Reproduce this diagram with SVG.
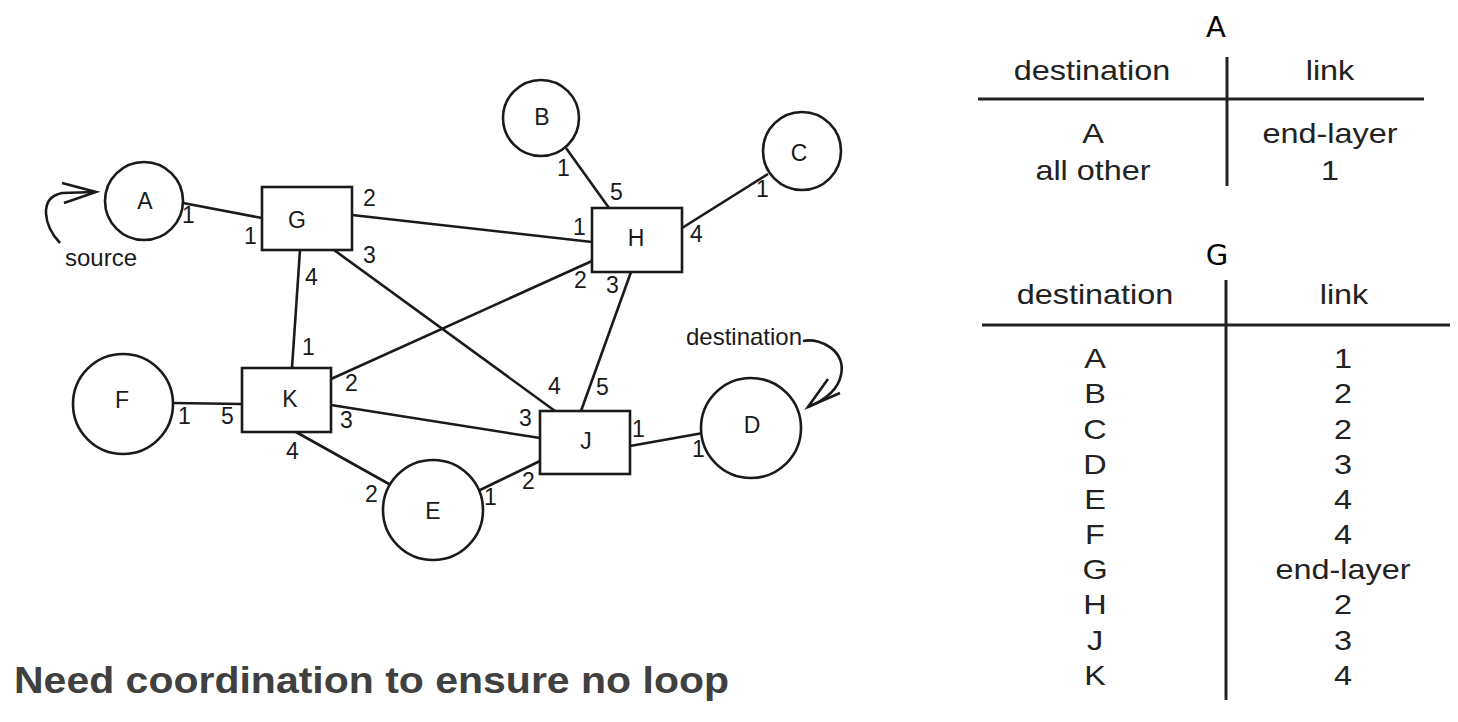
<svg xmlns="http://www.w3.org/2000/svg" width="1458" height="722" viewBox="0 0 1458 722">
<style>
.nd{fill:#fff;stroke:#1a1a1a;stroke-width:2.6}
.ln{stroke:#1a1a1a;stroke-width:2.6;fill:none}
.lb{font-family:"Liberation Sans",Arial,sans-serif;font-size:23px;fill:#1a1a1a}
.nl{font-family:"Liberation Sans",Arial,sans-serif;font-size:23px;fill:#1a1a1a;text-anchor:middle}
.an{font-family:"Liberation Sans",Arial,sans-serif;font-size:24px;fill:#1a1a1a}
.tt{font-family:"DejaVu Sans",sans-serif;font-size:29px;fill:#000;text-anchor:middle}
.tx{font-family:"Liberation Sans",Arial,sans-serif;font-size:27px;fill:#222;text-anchor:middle}
.tl{stroke:#222;stroke-width:3}
</style>
<rect width="1458" height="722" fill="#fff"/>
<g id="connectors">
<line class="ln" x1="183" y1="203" x2="262" y2="218"/>
<line class="ln" x1="352" y1="215" x2="592" y2="242"/>
<line class="ln" x1="566" y1="148" x2="609" y2="208"/>
<line class="ln" x1="768" y1="174" x2="682" y2="228"/>
<line class="ln" x1="300" y1="250" x2="292" y2="368"/>
<line class="ln" x1="334" y1="250" x2="555" y2="411"/>
<line class="ln" x1="592" y1="261" x2="331" y2="379"/>
<line class="ln" x1="631" y1="272" x2="581" y2="411"/>
<line class="ln" x1="173" y1="403" x2="242" y2="404"/>
<line class="ln" x1="331" y1="405" x2="540" y2="438"/>
<line class="ln" x1="296" y1="432" x2="389" y2="484"/>
<line class="ln" x1="478" y1="491" x2="540" y2="461"/>
<line class="ln" x1="630" y1="446" x2="703" y2="433"/>
<path class="ln" d="M60,243 C44,226 38,198 62,193 L95,192"/>
<path class="ln" d="M62,183 L96,192 L64,203"/>
<path class="ln" d="M803,341 C822,337 846,352 841,375 C838,390 825,400 808,407"/>
<path class="ln" d="M828,379 L808,407 L840,393"/>
</g>
<g id="port-labels">
<text class="lb" x="182" y="223">1</text>
<text class="lb" x="244" y="244">1</text>
<text class="lb" x="363" y="206">2</text>
<text class="lb" x="363" y="263">3</text>
<text class="lb" x="305" y="285">4</text>
<text class="lb" x="302" y="355">1</text>
<text class="lb" x="345" y="391">2</text>
<text class="lb" x="340" y="428">3</text>
<text class="lb" x="286" y="459">4</text>
<text class="lb" x="178" y="424">1</text>
<text class="lb" x="221" y="424">5</text>
<text class="lb" x="365" y="502">2</text>
<text class="lb" x="484" y="505">1</text>
<text class="lb" x="522" y="489">2</text>
<text class="lb" x="519" y="426">3</text>
<text class="lb" x="548" y="394">4</text>
<text class="lb" x="596" y="395">5</text>
<text class="lb" x="632" y="437">1</text>
<text class="lb" x="692" y="457">1</text>
<text class="lb" x="557" y="176">1</text>
<text class="lb" x="610" y="200">5</text>
<text class="lb" x="573" y="235">1</text>
<text class="lb" x="574" y="288">2</text>
<text class="lb" x="606" y="293">3</text>
<text class="lb" x="690" y="242">4</text>
<text class="lb" x="756" y="197">1</text>
</g>
<g id="node-A"><circle class="nd" cx="144" cy="201" r="39"/><text class="nl" x="145" y="209">A</text></g>
<g id="node-B"><circle class="nd" cx="541" cy="118" r="38"/><text class="nl" x="542" y="125">B</text></g>
<g id="node-C"><circle class="nd" cx="802" cy="151" r="39"/><text class="nl" x="799" y="161">C</text></g>
<g id="node-D"><circle class="nd" cx="751" cy="428" r="50"/><text class="nl" x="752" y="433">D</text></g>
<g id="node-E"><circle class="nd" cx="433" cy="510" r="50"/><text class="nl" x="433" y="519">E</text></g>
<g id="node-F"><circle class="nd" cx="123" cy="404" r="50"/><text class="nl" x="122" y="408">F</text></g>
<g id="node-G"><rect class="nd" x="262" y="187" width="90" height="63"/><text class="nl" x="297" y="228">G</text></g>
<g id="node-H"><rect class="nd" x="592" y="208" width="90" height="64"/><text class="nl" x="636" y="246">H</text></g>
<g id="node-K"><rect class="nd" x="242" y="368" width="89" height="64"/><text class="nl" x="290" y="407">K</text></g>
<g id="node-J"><rect class="nd" x="540" y="411" width="90" height="63"/><text class="nl" x="586" y="449">J</text></g>
<g id="annotations">
<text class="an" x="65" y="266">source</text>
<text class="an" x="686" y="345" textLength="116" lengthAdjust="spacingAndGlyphs">destination</text>
</g>
<g id="table-A">
<text class="tt" x="1216" y="37">A</text>
<line class="tl" x1="978" y1="99" x2="1424" y2="99"/>
<line class="tl" x1="1227" y1="57" x2="1227" y2="186"/>
<text class="tx" transform="translate(1092,80) scale(1.2,1)">destination</text>
<text class="tx" transform="translate(1330,80) scale(1.2,1)">link</text>
<text class="tx" transform="translate(1093,143) scale(1.2,1)">A</text>
<text class="tx" transform="translate(1330,143) scale(1.2,1)">end-layer</text>
<text class="tx" transform="translate(1093,180) scale(1.2,1)">all other</text>
<text class="tx" transform="translate(1330,180) scale(1.2,1)">1</text>
</g>
<g id="table-G">
<text class="tt" x="1217" y="265">G</text>
<line class="tl" x1="982" y1="325" x2="1450" y2="325"/>
<line class="tl" x1="1226" y1="280" x2="1226" y2="700"/>
<text class="tx" transform="translate(1095,304) scale(1.2,1)">destination</text>
<text class="tx" transform="translate(1344,304) scale(1.2,1)">link</text>
<text class="tx" transform="translate(1095,368) scale(1.2,1)">A</text>
<text class="tx" transform="translate(1343,368) scale(1.2,1)">1</text>
<text class="tx" transform="translate(1095,403) scale(1.2,1)">B</text>
<text class="tx" transform="translate(1343,403) scale(1.2,1)">2</text>
<text class="tx" transform="translate(1095,439) scale(1.2,1)">C</text>
<text class="tx" transform="translate(1343,439) scale(1.2,1)">2</text>
<text class="tx" transform="translate(1095,474) scale(1.2,1)">D</text>
<text class="tx" transform="translate(1343,474) scale(1.2,1)">3</text>
<text class="tx" transform="translate(1095,509) scale(1.2,1)">E</text>
<text class="tx" transform="translate(1343,509) scale(1.2,1)">4</text>
<text class="tx" transform="translate(1095,544) scale(1.2,1)">F</text>
<text class="tx" transform="translate(1343,544) scale(1.2,1)">4</text>
<text class="tx" transform="translate(1095,579) scale(1.2,1)">G</text>
<text class="tx" transform="translate(1343,579) scale(1.2,1)">end-layer</text>
<text class="tx" transform="translate(1095,614) scale(1.2,1)">H</text>
<text class="tx" transform="translate(1343,614) scale(1.2,1)">2</text>
<text class="tx" transform="translate(1095,650) scale(1.2,1)">J</text>
<text class="tx" transform="translate(1343,650) scale(1.2,1)">3</text>
<text class="tx" transform="translate(1095,685) scale(1.2,1)">K</text>
<text class="tx" transform="translate(1343,685) scale(1.2,1)">4</text>
</g>
<text x="14" y="693" font-family="'Liberation Sans',Arial,sans-serif" font-size="37" font-weight="bold" fill="#404040" textLength="715" lengthAdjust="spacingAndGlyphs">Need coordination to ensure no loop</text>
</svg>
